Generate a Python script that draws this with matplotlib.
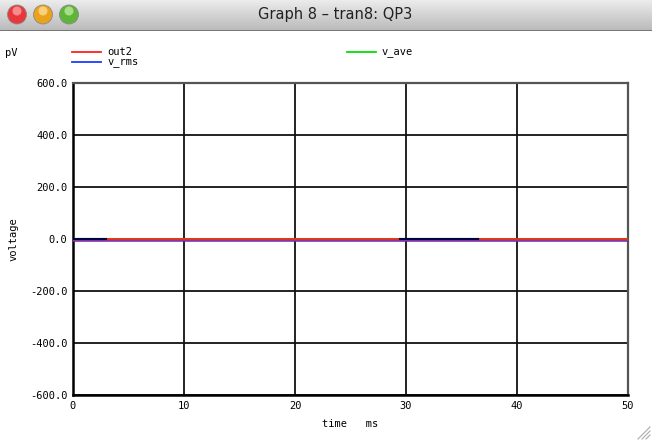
import numpy as np
import matplotlib
matplotlib.use("Agg")
import matplotlib.pyplot as plt
from matplotlib.patches import Circle
from matplotlib.lines import Line2D

# ---- data ----
time_ms = [0, 10, 20, 30, 40, 50]
out2 = [1.5, 1.5, 1.5, 1.5, 1.5, 1.5]
v_rms = [-4.0, -4.0, -4.0, -4.0, -4.0, -4.0]
v_ave = [0.0, 0.0, 0.0, 0.0, 0.0, 0.0]
dark_time = [0.0, 3.0]
dark_vals = [0.0, 0.0]
dark_time2 = [29.5, 36.5]
dark_vals2 = [-1.0, -1.0]
x_ticks = [0, 10, 20, 30, 40, 50]
y_ticks = [-600, -400, -200, 0, 200, 400, 600]
y_labels = ["-600.0", "-400.0", "-200.0", "0.0", "200.0", "400.0", "600.0"]
title = "Graph 8 \u2013 tran8: QP3"

W, H = 652, 441
fig = plt.figure(figsize=(W / 100, H / 100), dpi=100)
fig.patch.set_facecolor("white")

def fx(px):
    return px / W

def fy(py):
    return 1 - py / H

# ---- title bar ----
bar_h = 31
grad = np.linspace(0, 1, 64).reshape(-1, 1)
bax = fig.add_axes([0, fy(bar_h), 1, bar_h / H])
bax.imshow(grad, aspect="auto", cmap=matplotlib.colors.LinearSegmentedColormap.from_list(
    "tb", ["#ececec", "#b9b9b9"]), extent=[0, W, bar_h, 0])
bax.set_xlim(0, W)
bax.set_ylim(bar_h, 0)
bax.axis("off")
bax.plot([0, W], [bar_h - 0.5, bar_h - 0.5], color="#6a6a6a", lw=1.2)
for cx, c1, c2 in [(17, "#e8383c", "#ffb0b0"), (43, "#e9a21c", "#ffe6a0"), (69, "#5fb53a", "#c8f0a8")]:
    bax.add_patch(Circle((cx, 14.5), 9.5, facecolor=c1, edgecolor="#8a8a8a", lw=0.6))
    bax.add_patch(Circle((cx, 11.0), 4.5, facecolor=c2, edgecolor="none", alpha=0.7))
bax.text(335, 15, title, ha="center", va="center", fontsize=10.5, color="#222222",
         family="DejaVu Sans")

# ---- main plot ----
ax = fig.add_axes([fx(73), fy(395), (628 - 73) / W, (395 - 83) / H])
mono = "DejaVu Sans Mono"
ax.plot(time_ms, v_ave, color="#00e000", lw=1.5, zorder=3)
ax.plot(time_ms, v_rms, color="#1a3cff", lw=1.8, zorder=4)
ax.plot(time_ms, out2, color="#ff2020", lw=1.8, zorder=5)
ax.plot(dark_time, dark_vals, color="#000040", lw=1.5, zorder=6)
ax.plot(dark_time2, dark_vals2, color="#000040", lw=1.5, zorder=6)
ax.set_xlim(0, 50)
ax.set_ylim(-600, 600)
ax.set_xticks(x_ticks)
ax.set_xticklabels([str(t) for t in x_ticks], family=mono, fontsize=7.5)
ax.set_yticks(y_ticks)
ax.set_yticklabels(y_labels, family=mono, fontsize=7.5)
ax.tick_params(length=0, pad=4)
ax.grid(True, color="#111111", lw=1.3, zorder=1)
ax.set_axisbelow(True)
for s in ["top", "right"]:
    ax.spines[s].set_color("#555555")
    ax.spines[s].set_linewidth(1.6)
for s in ["left", "bottom"]:
    ax.spines[s].set_color("#000000")
    ax.spines[s].set_linewidth(1.8)
ax.set_xlabel("time   ms", family=mono, fontsize=7.5, labelpad=6)
ax.set_ylabel("voltage", family=mono, fontsize=7.5, labelpad=8)

# ---- legend header ----
fig.text(fx(5), fy(53), "pV", family=mono, fontsize=7.5, va="center", ha="left")
for (x0, y0, col, lab) in [(72, 52, "#ff2020", "out2"), (72, 62, "#1a3cff", "v_rms"),
                           (347, 52, "#00e000", "v_ave")]:
    fig.add_artist(Line2D([fx(x0), fx(x0 + 29)], [fy(y0), fy(y0)], color=col, lw=1.3))
    fig.text(fx(x0 + 35), fy(y0), lab, family=mono, fontsize=7.5, va="center", ha="left")

# resize grip
for d in [4, 8, 12]:
    fig.add_artist(Line2D([fx(650 - d), fx(650)], [fy(439), fy(439 - d)], color="#aaaaaa", lw=0.8))

fig.savefig("out.png", dpi=100)
